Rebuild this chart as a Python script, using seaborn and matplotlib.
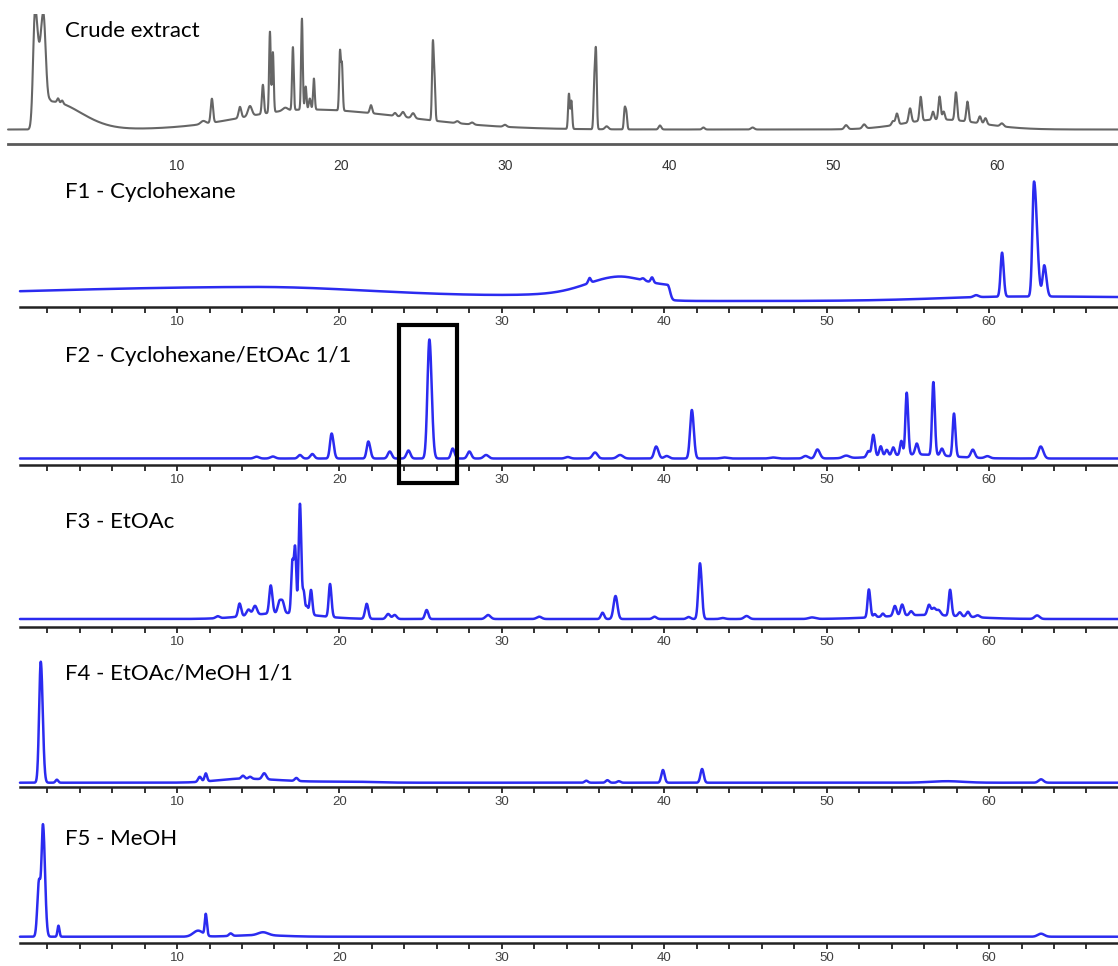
import numpy as np
import pandas as pd
import seaborn as sns
import matplotlib.pyplot as plt
from matplotlib.patches import Rectangle
from matplotlib.ticker import FixedLocator
from matplotlib import transforms

# peak tables: (retention time, height, left width, right width)
# heights are in signal units above the axis line
labels = ["Crude extract", "F1 - Cyclohexane", "F2 - Cyclohexane/EtOAc 1/1",
          "F3 - EtOAc", "F4 - EtOAc/MeOH 1/1", "F5 - MeOH"]
base_levels = [14.5, 6, 6.5, 8, 4.3, 6.3]
major_ticks = [10, 20, 30, 40, 50, 60]
minor_ticks = list(range(2, 68, 2))

crude_peaks = [
    (18.0, 20, 4.0, 6.0), (56.5, 10, 2.2, 2.5),
    (1.35, 118, 0.12, 0.18), (1.85, 112, 0.18, 0.15), (2.3, 28, 0.2, 1.8),
    (2.75, 4, 0.06, 0.06), (3.0, 3, 0.06, 0.06),
    (11.6, 3, 0.15, 0.15), (12.13, 24, 0.07, 0.07), (13.84, 11, 0.08, 0.08),
    (14.45, 10, 0.12, 0.12), (15.24, 29, 0.06, 0.06), (15.67, 81, 0.05, 0.05),
    (15.85, 60, 0.05, 0.05), (16.6, 3, 0.15, 0.15), (17.07, 63, 0.05, 0.05),
    (17.62, 91, 0.05, 0.05), (17.85, 23, 0.05, 0.05), (18.1, 11, 0.06, 0.06),
    (18.35, 31, 0.05, 0.05), (19.94, 58, 0.05, 0.05), (20.06, 45, 0.05, 0.05),
    (21.83, 8, 0.07, 0.07), (23.3, 3, 0.08, 0.08), (23.78, 5, 0.1, 0.1),
    (24.4, 5, 0.1, 0.1), (25.6, 74, 0.05, 0.05), (25.7, 40, 0.05, 0.05),
    (27.1, 2, 0.1, 0.1), (28.0, 2, 0.1, 0.1), (30.0, 2, 0.1, 0.1),
    (33.9, 35, 0.05, 0.05), (34.05, 28, 0.05, 0.05), (35.45, 45, 0.05, 0.05),
    (35.55, 75, 0.05, 0.05), (36.2, 3, 0.1, 0.1), (37.3, 20, 0.05, 0.05),
    (37.4, 16, 0.05, 0.05), (39.45, 4, 0.08, 0.08), (42.1, 2, 0.08, 0.08),
    (45.1, 2, 0.1, 0.1), (50.8, 4, 0.1, 0.1), (51.9, 4, 0.1, 0.1),
    (53.66, 4, 0.08, 0.08), (53.9, 11, 0.08, 0.08), (54.7, 14, 0.08, 0.08),
    (55.35, 24, 0.07, 0.07), (56.1, 8, 0.07, 0.07), (56.5, 23, 0.07, 0.07),
    (56.75, 8, 0.07, 0.07), (57.5, 28, 0.07, 0.07), (58.2, 20, 0.07, 0.07),
    (58.96, 7, 0.08, 0.08), (59.3, 6, 0.08, 0.08), (60.3, 3, 0.1, 0.1),
]

f1_peaks = [
    (14.5, 10, 16.0, 7.0), (40.3, 5, 40.0, 0.12), (37.0, 12, 1.8, 1.5),
    (40.2, 10, 4.0, 0.12), (62.0, 4.5, 5.0, 12.0),
    (35.4, 5, 0.08, 0.08), (38.7, 2, 0.1, 0.1), (39.25, 5, 0.08, 0.08),
    (59.2, 2, 0.15, 0.15), (60.8, 44, 0.09, 0.1), (62.77, 115, 0.1, 0.18),
    (63.4, 31, 0.1, 0.13),
]

f2_peaks = [
    (55.5, 4, 2.0, 2.0),
    (14.9, 1.8, 0.15, 0.15), (15.9, 2, 0.15, 0.15), (17.57, 3.5, 0.12, 0.12),
    (18.33, 4.5, 0.12, 0.12), (19.52, 25, 0.1, 0.12), (21.78, 17, 0.1, 0.12),
    (23.1, 7, 0.12, 0.12), (24.25, 8, 0.12, 0.12), (25.54, 119, 0.12, 0.14),
    (26.97, 10, 0.1, 0.12), (28.0, 7, 0.12, 0.12), (29.03, 3.5, 0.15, 0.15),
    (34.06, 1.5, 0.15, 0.15), (35.74, 6, 0.15, 0.15), (37.28, 3.5, 0.18, 0.18),
    (39.5, 12, 0.12, 0.14), (40.15, 2.5, 0.15, 0.15), (41.7, 48.5, 0.11, 0.12),
    (43.7, 1, 0.2, 0.2), (46.7, 1, 0.2, 0.2), (48.7, 2.5, 0.15, 0.15),
    (49.43, 9, 0.13, 0.15), (51.2, 2.5, 0.2, 0.2), (52.57, 6, 0.1, 0.1),
    (52.87, 22, 0.09, 0.1), (53.33, 10, 0.09, 0.09), (53.7, 6, 0.09, 0.09),
    (54.1, 8, 0.09, 0.09), (54.6, 14, 0.08, 0.08), (54.93, 62, 0.08, 0.09),
    (55.55, 11, 0.1, 0.1), (56.57, 73, 0.08, 0.09), (57.1, 7, 0.1, 0.1),
    (57.84, 43, 0.08, 0.09), (59.0, 8, 0.12, 0.12), (59.9, 2, 0.15, 0.15),
    (63.18, 12, 0.14, 0.16),
]

f3_peaks = [
    (16.5, 6, 2.0, 2.0), (56.0, 4, 2.5, 2.5),
    (12.5, 2, 0.12, 0.12), (13.85, 13, 0.09, 0.1), (14.4, 6, 0.12, 0.12),
    (14.8, 9, 0.12, 0.12), (15.77, 28, 0.09, 0.1), (16.3, 11, 0.1, 0.1),
    (16.5, 11, 0.1, 0.1), (17.1, 50, 0.07, 0.07), (17.27, 65, 0.07, 0.07),
    (17.57, 110, 0.08, 0.08), (17.8, 22, 0.07, 0.07), (18.0, 8, 0.07, 0.07),
    (18.25, 25, 0.08, 0.08), (19.42, 33, 0.08, 0.09), (21.68, 15, 0.1, 0.1),
    (23.0, 5, 0.12, 0.12), (23.4, 4, 0.12, 0.12), (25.37, 9, 0.1, 0.1),
    (29.15, 4, 0.15, 0.15), (32.3, 2.3, 0.15, 0.15), (36.2, 6.3, 0.1, 0.1),
    (37.0, 23, 0.12, 0.12), (39.4, 2.3, 0.12, 0.12), (41.5, 2, 0.12, 0.12),
    (42.2, 55.7, 0.1, 0.11), (43.6, 1, 0.15, 0.15), (45.07, 3, 0.15, 0.15),
    (49.1, 1.5, 0.2, 0.2), (52.6, 28, 0.08, 0.09), (52.96, 3, 0.08, 0.08),
    (53.46, 3, 0.08, 0.08), (54.2, 10, 0.1, 0.1), (54.65, 11, 0.1, 0.1),
    (55.2, 4, 0.1, 0.1), (56.3, 10, 0.1, 0.1), (56.6, 7, 0.12, 0.12),
    (56.9, 5, 0.12, 0.12), (57.6, 26, 0.08, 0.09), (58.2, 4, 0.1, 0.1),
    (58.7, 5, 0.1, 0.1), (59.3, 2, 0.12, 0.12), (62.96, 3.5, 0.15, 0.15),
]

f4_peaks = [
    (14.0, 4, 1.5, 2.5), (20.5, 1, 1.5, 1.5), (57.4, 1.5, 1.0, 1.0),
    (1.61, 121, 0.1, 0.12), (2.6, 3, 0.08, 0.08), (11.4, 5, 0.1, 0.1),
    (11.77, 8, 0.08, 0.08), (14.06, 3, 0.1, 0.1), (14.5, 2, 0.1, 0.1),
    (15.37, 6, 0.12, 0.12), (17.35, 3, 0.1, 0.1), (35.2, 2, 0.1, 0.1),
    (36.5, 2.5, 0.1, 0.1), (37.2, 1.5, 0.1, 0.1), (39.92, 12.7, 0.1, 0.1),
    (42.33, 13.7, 0.1, 0.1), (63.2, 3.4, 0.15, 0.15),
]

f5_peaks = [
    (15.0, 1.5, 1.5, 1.5),
    (1.5, 55, 0.1, 0.1), (1.75, 110, 0.09, 0.12), (2.7, 11, 0.06, 0.06),
    (11.3, 6, 0.3, 0.3), (11.77, 21, 0.06, 0.07), (13.3, 2.5, 0.1, 0.1),
    (15.3, 3, 0.3, 0.3), (63.2, 3, 0.2, 0.2),
]

all_peaks = [crude_peaks, f1_peaks, f2_peaks, f3_peaks, f4_peaks, f5_peaks]

# layout in pixels (figure is 1118 x 966)
W, H = 1118, 966
axis_y = [144, 307, 465, 627, 787, 943]
top_y = [14, 160, 320, 480, 640, 800]
label_base = [37, 198, 362, 528, 680, 845]
xlims = [(-0.79, 67.38)] + [(-0.9, 67.94)] * 5
trace_start = [-0.3, 0.33, 0.33, 0.33, 0.33, 0.33]


def build_trace(x, base, peaks):
    y = np.full_like(x, base)
    for rt, h, wl, wr in peaks:
        w = np.where(x < rt, wl, wr)
        y = y + h * np.exp(-0.5 * ((x - rt) / w) ** 2)
    return y


sns.set_style("white")
fig = plt.figure(figsize=(W / 100, H / 100), dpi=100)

axes = []
for i in range(6):
    bottom = 1 - axis_y[i] / H
    height = (axis_y[i] - top_y[i]) / H
    ax = fig.add_axes([0, bottom, 1, height])
    x = np.linspace(trace_start[i], xlims[i][1], 9000)
    df = pd.DataFrame({"t": x, "signal": build_trace(x, base_levels[i], all_peaks[i])})
    if i == 0:
        color, lw = "#666666", 1.5
    else:
        color, lw = "#2b2bf0", 1.8
    sns.lineplot(data=df, x="t", y="signal", ax=ax, color=color, linewidth=lw,
                 estimator=None, sort=False)
    ax.set_xlim(*xlims[i])
    ax.set_ylim(0, axis_y[i] - top_y[i])
    ax.set_xlabel("")
    ax.set_ylabel("")
    ax.set_yticks([])
    for s in ["left", "right", "top"]:
        ax.spines[s].set_visible(False)
    ax.set_xticks(major_ticks)
    ax.patch.set_alpha(0)
    if i == 0:
        ax.spines["bottom"].set_color("#5a5a5a")
        ax.spines["bottom"].set_linewidth(2.0)
        ax.spines["bottom"].set_bounds(-0.3, xlims[i][1])
        ax.tick_params(axis="x", bottom=True, length=0, pad=10.5, labelsize=10,
                       labelcolor="#333333")
    else:
        ax.spines["bottom"].set_color("#222222")
        ax.spines["bottom"].set_linewidth(1.8)
        ax.spines["bottom"].set_bounds(0.33, xlims[i][1])
        ax.xaxis.set_minor_locator(FixedLocator([m for m in minor_ticks if m % 10]))
        ax.tick_params(axis="x", which="both", bottom=True, direction="out",
                       length=4.3, width=1.2, color="#111111", pad=2.5,
                       labelsize=9.5, labelcolor="#404040")
    for t in ax.get_xticklabels():
        t.set_family(["Liberation Sans", "DejaVu Sans"])
    fig.text(65 / W, 1 - label_base[i] / H, labels[i], fontsize=16,
             family=["Lato", "DejaVu Sans"], va="baseline", ha="left", color="black")
    axes.append(ax)

# highlight box around the main F2 peak
tr = transforms.blended_transform_factory(axes[2].transData, fig.transFigure)
box = Rectangle((23.67, 1 - 483 / H), 27.24 - 23.67, (483 - 325) / H, transform=tr,
                fill=False, edgecolor="black", linewidth=3, clip_on=False, zorder=10)
fig.add_artist(box)

fig.savefig("out.png", dpi=100)
